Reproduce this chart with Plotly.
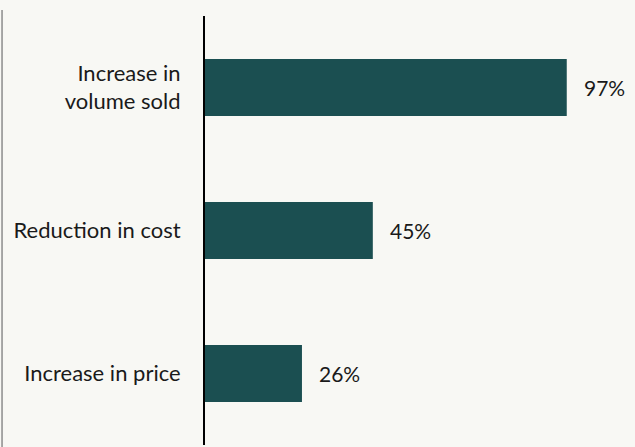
import plotly.graph_objects as go

# Share of respondents citing each driver of profit growth
categories = ["Increase in volume sold", "Reduction in cost", "Increase in price"]
tick_labels = ["Increase in<br>volume sold", "Reduction in cost", "Increase in price"]
values = [97, 45, 26]

BAR_COLOR = "#1b4f51"
BG = "#f8f8f4"
TEXT = "#1a1a1a"
FONT = "Lato, Open Sans, sans-serif"

fig = go.Figure(
    go.Bar(
        x=values,
        y=categories,
        orientation="h",
        width=0.4,
        marker=dict(color=BAR_COLOR, line=dict(width=0)),
        hoverinfo="skip",
    )
)

# value labels just past the end of each bar
for cat, v in zip(categories, values):
    fig.add_annotation(
        x=v, y=cat, text=f"{v}%", showarrow=False,
        xanchor="left", yanchor="middle", xshift=15,
        font=dict(family=FONT, size=21, color=TEXT),
    )

# thin grey rule at the far left edge
fig.add_shape(
    type="line", xref="paper", yref="paper",
    x0=-0.472, x1=-0.472, y0=1.014, y1=-0.01,
    line=dict(color="#8c8c8c", width=1.5),
)

fig.update_layout(
    width=635, height=447,
    margin=dict(l=205, r=0, t=16, b=2),
    paper_bgcolor=BG, plot_bgcolor=BG,
    showlegend=False,
    font=dict(family=FONT, size=22, color=TEXT),
    xaxis=dict(range=[0, 115.3], visible=False, fixedrange=True),
    yaxis=dict(
        categoryorder="array", categoryarray=categories,
        autorange="reversed",
        tickmode="array", tickvals=categories, ticktext=tick_labels,
        showline=True, linecolor="#000000", linewidth=2,
        ticks="", showgrid=False, zeroline=False,
        ticklabelstandoff=18,
        tickfont=dict(family=FONT, size=22, color=TEXT),
    ),
)

fig.write_html("out.html")
